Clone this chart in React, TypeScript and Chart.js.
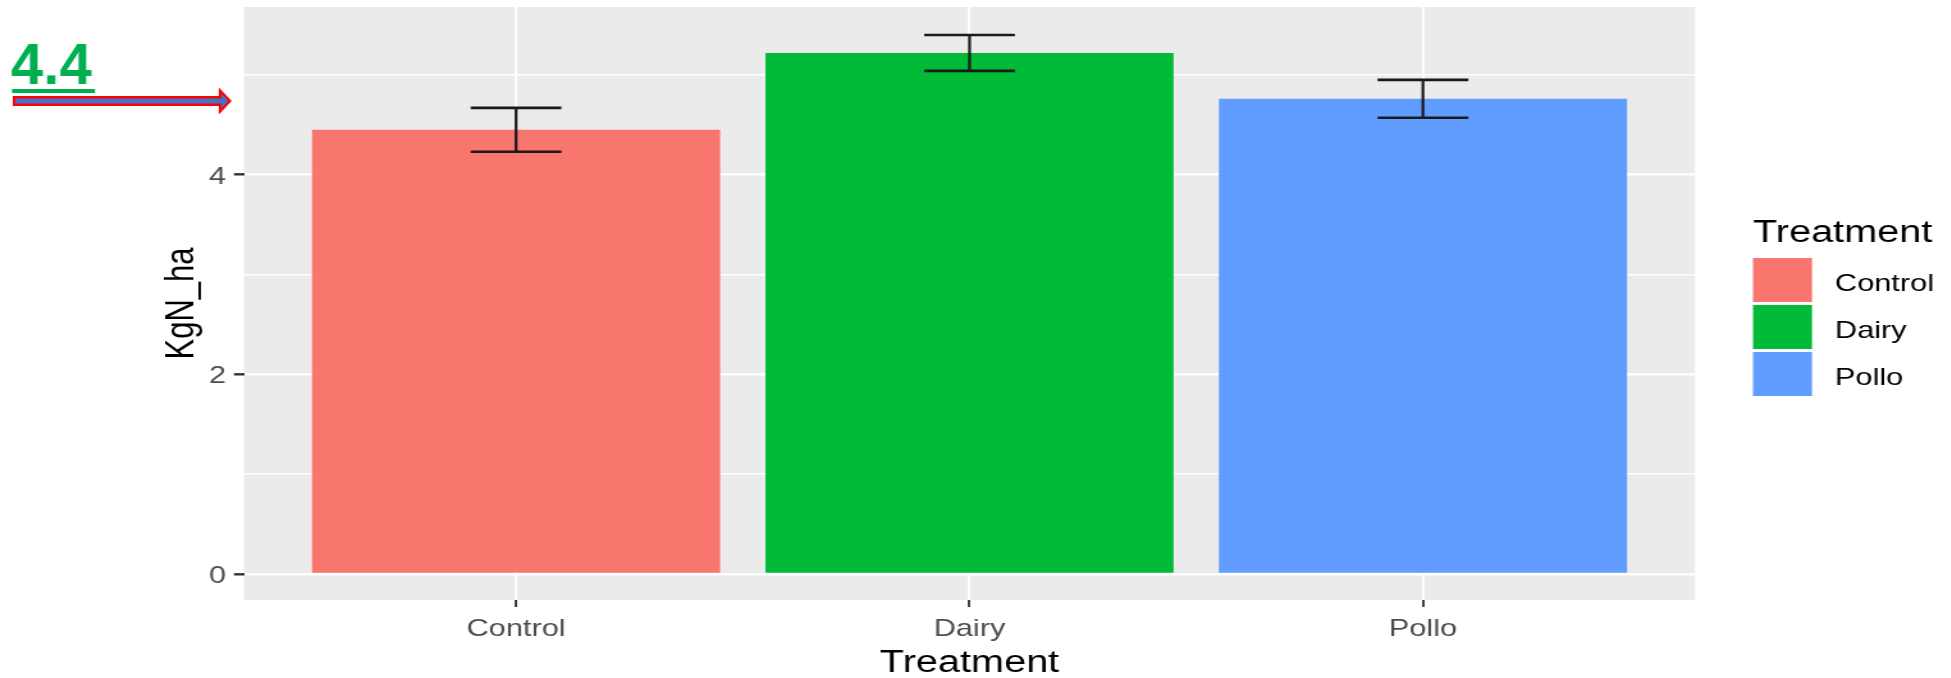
import React, { useEffect, useRef } from 'react';
import { Chart, registerables } from 'chart.js';

Chart.register(...registerables);

// ---- data ----
const categories = ['Control', 'Dairy', 'Pollo'];
const means = [4.45, 5.22, 4.76];
const stdErrors = [0.22, 0.18, 0.19];
const barColors = ['#F8766D', '#00BA38', '#619CFF'];
const yTickLabels = [0, 2, 4];
const yMin = -0.26;
const yMax = 5.68;
const xTitle = 'Treatment';
const yTitle = 'KgN_ha';
const legendTitle = 'Treatment';
const noteText = '4.4';

// ---- layout (the reference is stretched horizontally) ----
const SX = 1.28;
const FULL_W = 1951;
const H = 678;
const W = Math.round(FULL_W / SX);
const PANEL_LEFT = 244 / SX;
const PANEL_RIGHT = 1695 / SX;
const PANEL_TOP = 7;
const PANEL_BOTTOM = 600;
const FONT = '"Liberation Sans", Arial, sans-serif';

const bgPlugin = {
  id: 'panelBg',
  beforeDraw(chart: any) {
    const { ctx, chartArea } = chart;
    ctx.save();
    ctx.fillStyle = '#EBEBEB';
    ctx.fillRect(chartArea.left, chartArea.top, chartArea.right - chartArea.left, chartArea.bottom - chartArea.top);
    ctx.restore();
  },
};

const errorBarPlugin = {
  id: 'errorBars',
  afterDatasetsDraw(chart: any) {
    const { ctx } = chart;
    const xs = chart.scales.x;
    const ys = chart.scales.y;
    ctx.save();
    ctx.strokeStyle = '#1a1a1a';
    means.forEach((m, i) => {
      const x = xs.getPixelForValue(i + 1);
      const half = xs.getPixelForValue(i + 1.1) - x;
      const yTop = ys.getPixelForValue(m + stdErrors[i]);
      const yBot = ys.getPixelForValue(m - stdErrors[i]);
      ctx.lineWidth = 2.2;
      ctx.beginPath();
      ctx.moveTo(x, yTop);
      ctx.lineTo(x, yBot);
      ctx.stroke();
      ctx.lineWidth = 2.6;
      ctx.beginPath();
      ctx.moveTo(x - half, yTop);
      ctx.lineTo(x + half, yTop);
      ctx.moveTo(x - half, yBot);
      ctx.lineTo(x + half, yBot);
      ctx.stroke();
    });
    ctx.restore();
  },
};

const textPlugin = {
  id: 'texts',
  afterDraw(chart: any) {
    const { ctx, chartArea } = chart;
    const xs = chart.scales.x;
    const ys = chart.scales.y;
    ctx.save();
    // y tick labels
    ctx.font = `24px ${FONT}`;
    ctx.fillStyle = '#4D4D4D';
    ctx.textAlign = 'right';
    ctx.textBaseline = 'alphabetic';
    yTickLabels.forEach((v) => {
      ctx.fillText(String(v), 226 / SX, ys.getPixelForValue(v) + 8.8);
    });
    // x tick labels
    ctx.textAlign = 'center';
    categories.forEach((c, i) => {
      ctx.fillText(c, xs.getPixelForValue(i + 1), 636);
    });
    // x title
    ctx.fillStyle = '#000000';
    ctx.font = `31px ${FONT}`;
    ctx.fillText(xTitle, (chartArea.left + chartArea.right) / 2, 672);
    // y title
    ctx.save();
    ctx.translate(193 / SX, (chartArea.top + chartArea.bottom) / 2);
    ctx.rotate(-Math.PI / 2);
    ctx.textAlign = 'center';
    ctx.fillText(yTitle, 0, 0);
    ctx.restore();
    // legend
    ctx.textAlign = 'left';
    ctx.fillText(legendTitle, 1753 / SX, 242);
    ctx.font = `24px ${FONT}`;
    categories.forEach((c, i) => {
      const top = 258 + i * 47;
      ctx.fillStyle = barColors[i];
      ctx.fillRect(1753 / SX, top, 59 / SX, 44);
      ctx.fillStyle = '#000000';
      ctx.fillText(c, 1835 / SX, top + 33);
    });
    // annotation (not stretched)
    ctx.scale(1 / SX, 1);
    ctx.fillStyle = '#00B050';
    ctx.font = `bold 58px ${FONT}`;
    ctx.textAlign = 'left';
    ctx.fillText(noteText, 11, 84);
    ctx.fillRect(12, 89, 83, 4);
    ctx.beginPath();
    ctx.moveTo(14, 97.2);
    ctx.lineTo(220, 97.2);
    ctx.lineTo(220, 90.5);
    ctx.lineTo(230, 101);
    ctx.lineTo(220, 111.5);
    ctx.lineTo(220, 104.8);
    ctx.lineTo(14, 104.8);
    ctx.closePath();
    ctx.fillStyle = '#4472C4';
    ctx.fill();
    ctx.strokeStyle = '#FF0000';
    ctx.lineWidth = 2.4;
    ctx.stroke();
    ctx.restore();
  },
};

export default function App() {
  const canvasRef = useRef<HTMLCanvasElement | null>(null);

  useEffect(() => {
    const canvas = canvasRef.current;
    if (!canvas) return;
    const chart = new Chart(canvas, {
      type: 'bar',
      data: {
        datasets: [
          {
            label: 'KgN_ha',
            data: means.map((m, i) => ({ x: i + 1, y: m })),
            backgroundColor: barColors,
            borderWidth: 0,
            barPercentage: 0.9,
            categoryPercentage: 1,
          },
        ],
      },
      options: {
        animation: false,
        responsive: false,
        events: [],
        layout: {
          padding: { left: 0, top: PANEL_TOP, right: W - PANEL_RIGHT, bottom: 0 },
        },
        plugins: {
          legend: { display: false },
          tooltip: { enabled: false },
          title: { display: false },
        },
        scales: {
          x: {
            type: 'linear',
            min: 0.4,
            max: 3.6,
            offset: false,
            ticks: { display: false, stepSize: 1, includeBounds: false },
            border: { display: false },
            grid: {
              offset: false,
              color: '#FFFFFF',
              lineWidth: 2.6 / SX,
              drawTicks: true,
              tickLength: 7,
              tickColor: '#333333',
              tickWidth: 2.4 / SX,
            },
            afterFit: (scale: any) => {
              scale.height = H - PANEL_BOTTOM;
            },
          },
          y: {
            type: 'linear',
            min: yMin,
            max: yMax,
            ticks: { display: false, stepSize: 1, includeBounds: false },
            border: { display: false },
            grid: {
              color: '#FFFFFF',
              lineWidth: (c: any) => (c.tick && Math.round(c.tick.value) % 2 === 0 ? 2.6 : 1.5),
              drawTicks: true,
              tickLength: 10 / SX,
              tickColor: (c: any) =>
                c.tick && Math.round(c.tick.value) % 2 === 0 ? '#333333' : 'rgba(0,0,0,0)',
              tickWidth: 2.4,
            },
            afterFit: (scale: any) => {
              scale.width = PANEL_LEFT;
            },
          },
        },
      } as any,
      plugins: [bgPlugin, errorBarPlugin, textPlugin],
    });
    return () => chart.destroy();
  }, []);

  return (
    <div
      style={{
        position: 'fixed',
        left: 0,
        top: 0,
        width: FULL_W,
        height: H,
        background: '#FFFFFF',
        overflow: 'hidden',
      }}
    >
      <div style={{ transform: `scaleX(${SX})`, transformOrigin: '0 0', width: W, height: H }}>
        <canvas ref={canvasRef} width={W} height={H} />
      </div>
    </div>
  );
}
